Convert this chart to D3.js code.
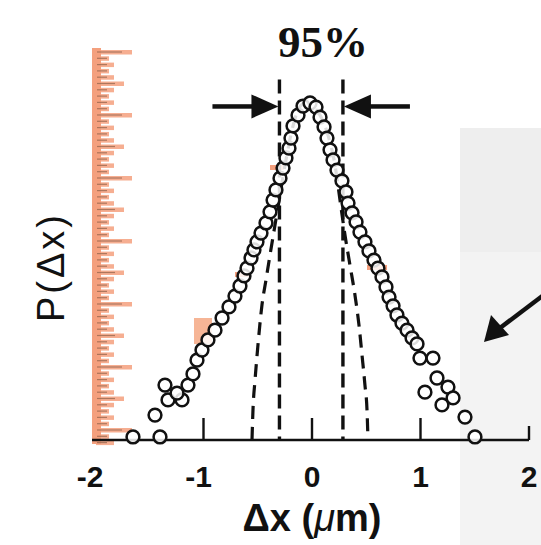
<!DOCTYPE html>
<html><head><meta charset="utf-8">
<script src="https://cdn.jsdelivr.net/npm/d3@7/dist/d3.min.js"></script>
<style>html,body{margin:0;padding:0;background:#fff;}svg{display:block;}</style>
</head><body>
<script>
// ---- data ----
const xTicks = [-2, -1, 0, 1, 2];
const xTickLabels = ["-2", "-1", "0", "1", "2"];
// measured distribution P(dx), normalised to the peak
const pointsX = [-1.650,-1.401,-1.447,-1.327,-1.198,-1.244,-1.355,-1.143,-1.097,-1.060,-1.014,-0.959,-0.894,-0.829,-0.765,-0.710,-0.664,-0.627,-0.599,-0.562,-0.535,-0.507,-0.470,-0.424,-0.387,-0.359,-0.332,-0.295,-0.267,-0.240,-0.212,-0.194,-0.175,-0.129,-0.083,-0.018,0.037,0.074,0.111,0.138,0.166,0.194,0.230,0.276,0.313,0.332,0.369,0.406,0.442,0.488,0.525,0.571,0.608,0.645,0.682,0.710,0.747,0.783,0.829,0.876,0.922,0.968,0.995,1.115,1.041,1.152,1.253,1.198,1.300,1.410,1.502];
const pointsY = [0.009,0.009,0.074,0.119,0.119,0.139,0.163,0.163,0.196,0.237,0.267,0.297,0.326,0.362,0.395,0.427,0.457,0.487,0.510,0.540,0.564,0.588,0.614,0.644,0.677,0.712,0.742,0.777,0.807,0.837,0.866,0.896,0.932,0.964,0.991,1.000,0.988,0.958,0.929,0.896,0.861,0.831,0.801,0.769,0.736,0.703,0.674,0.647,0.617,0.588,0.561,0.534,0.510,0.484,0.454,0.424,0.398,0.371,0.347,0.326,0.303,0.285,0.243,0.243,0.142,0.184,0.157,0.104,0.125,0.068,0.009];
// dashed narrow (diffraction-limited) profile
const fitX = [-0.553,-0.544,-0.525,-0.498,-0.461,-0.424,-0.387,-0.341,-0.295,-0.240,-0.184,-0.129,-0.065,0.000,0.074,0.147,0.212,0.258,0.304,0.350,0.396,0.433,0.461,0.488,0.507,0.516];
const fitY = [0.000,0.089,0.178,0.282,0.401,0.475,0.549,0.638,0.727,0.831,0.920,0.979,1.000,0.991,0.964,0.905,0.816,0.712,0.608,0.519,0.430,0.341,0.252,0.163,0.089,0.000];
// 95 % bounds (vertical dashed lines)
const boundX = [-0.30, 0.285];
const boundTop = 1.07;
const annotation = "95%";
const xTitle = ["\u0394x (", "\u03bc", "m)"];
const yTitle = "P(\u0394x)";

// ---- drawing ----
const W = 541, H = 545;
const svg = d3.select("body").append("svg").attr("width", W).attr("height", H);
const x = d3.scaleLinear().domain([-2, 2]).range([95, 529]);
const y = d3.scaleLinear().domain([0, 1]).range([440, 103]);

// scanned-paper background on the right
svg.append("rect").attr("x", 460).attr("y", 128).attr("width", 81).attr("height", 124).attr("fill", "#eeeeee");
svg.append("rect").attr("x", 460).attr("y", 252).attr("width", 81).attr("height", 293).attr("fill", "#f3f3f3");

// salmon ruler-like y axis
const salmon = "#f4a07e";
svg.append("rect").attr("x", 92).attr("y", 48).attr("width", 9).attr("height", 396).attr("fill", salmon);
const ry = d3.range(0, 63);
svg.append("g").selectAll("rect").data(ry).join("rect")
  .attr("x", 96)
  .attr("y", i => 50 + i * 6.3)
  .attr("width", i => i % 10 === 0 ? 36 : (i % 5 === 0 ? 28 : (i % 2 === 0 ? 18 : 13)))
  .attr("height", 4.5).attr("fill", salmon).attr("opacity", 0.85);
svg.append("g").selectAll("line").data(ry).join("line")
  .attr("x1", 97).attr("x2", i => i % 10 === 0 ? 122 : (i % 5 === 0 ? 115 : 107))
  .attr("y1", i => 52 + i * 6.3).attr("y2", i => 52 + i * 6.3)
  .attr("stroke", "#8f6048").attr("stroke-width", 1.2).attr("opacity", 0.7);

// salmon scan artefacts near the data
svg.append("rect").attr("x", 194).attr("y", 318).attr("width", 18).attr("height", 26).attr("fill", "#f6b596");
[[270, 165, 14], [235, 272, 15], [367, 265, 20]].forEach(([a, b, w]) =>
  svg.append("rect").attr("x", a).attr("y", b).attr("width", w).attr("height", 5).attr("fill", salmon));

// x axis
const axis = svg.append("g");
axis.append("line").attr("x1", x(-2) - 3).attr("x2", x(2)).attr("y1", y(0)).attr("y2", y(0))
  .attr("stroke", "#111").attr("stroke-width", 2.4);
axis.selectAll("line.tk").data(xTicks.filter(d => d > -2)).join("line").attr("class", "tk")
  .attr("x1", d => x(d)).attr("x2", d => x(d))
  .attr("y1", y(0)).attr("y2", d => d === 2 ? y(0) - 14 : y(0) - 22)
  .attr("stroke", "#111").attr("stroke-width", 2.4);
axis.selectAll("text").data(xTicks).join("text")
  .attr("x", d => x(d) - (d < 0 ? 5 : 0)).attr("y", 487)
  .attr("text-anchor", "middle")
  .attr("font-family", "Liberation Sans, Arial, sans-serif").attr("font-weight", "bold").attr("font-size", 30)
  .attr("fill", "#111")
  .text((d, i) => xTickLabels[i]);

// x title
const xt = svg.append("text").attr("x", 312).attr("y", 531).attr("text-anchor", "middle")
  .attr("font-family", "Liberation Sans, Arial, sans-serif").attr("font-weight", "bold").attr("font-size", 38).attr("fill", "#111");
xt.append("tspan").text(xTitle[0]);
xt.append("tspan").attr("font-style", "italic").attr("font-weight", "normal").text(xTitle[1]);
xt.append("tspan").text(xTitle[2]);

// y title
svg.append("text").attr("transform", "translate(64,267) rotate(-90)").attr("text-anchor", "middle")
  .attr("font-family", "Liberation Sans, Arial, sans-serif").attr("font-size", 38).attr("fill", "#111")
  .attr("letter-spacing", 3)
  .text(yTitle);

// dashed fit profile
const line = d3.line().x(d => x(d[0])).y(d => y(d[1])).curve(d3.curveMonotoneX);
svg.append("path").datum(fitX.map((v, i) => [v, fitY[i]])).attr("d", line)
  .attr("fill", "none").attr("stroke", "#111").attr("stroke-width", 3.2).attr("stroke-dasharray", "13 8");

// vertical 95% bound lines
svg.selectAll("line.bd").data(boundX).join("line").attr("class", "bd")
  .attr("x1", d => x(d)).attr("x2", d => x(d)).attr("y1", y(boundTop)).attr("y2", y(0))
  .attr("stroke", "#111").attr("stroke-width", 3.4).attr("stroke-dasharray", "14 7");

// data circles
svg.append("g").selectAll("circle").data(pointsX.map((v, i) => [v, pointsY[i]])).join("circle")
  .attr("cx", d => x(d[0])).attr("cy", d => y(d[1])).attr("r", 6.4)
  .attr("fill", "#fff").attr("fill-opacity", 0.85).attr("stroke", "#111").attr("stroke-width", 2.5);

// arrows pointing at the bounds
const ay = y(boundTop) + 27;
function arrow(tipX, dir) {
  const g = svg.append("g").attr("fill", "#111");
  g.append("rect").attr("x", dir > 0 ? tipX - 66 : tipX + 20).attr("y", ay - 2.2).attr("width", 46).attr("height", 4.5);
  g.append("path").attr("d", `M${tipX},${ay} L${tipX - dir * 27},${ay - 12} L${tipX - dir * 27},${ay + 12} Z`);
}
arrow(x(boundX[0]) - 1, 1);
arrow(x(boundX[1]) + 1, -1);

// 95% label
svg.append("text").attr("x", 323).attr("y", 57).attr("text-anchor", "middle")
  .attr("font-family", "Liberation Serif, Times New Roman, serif").attr("font-weight", "bold").attr("font-size", 45).attr("fill", "#111")
  .text(annotation);

// arrow at the right edge
svg.append("line").attr("x1", 545).attr("y1", 294).attr("x2", 500).attr("y2", 328).attr("stroke", "#111").attr("stroke-width", 4.5);
svg.append("path").attr("d", "M484,342 L491,315 L509,335 Z").attr("fill", "#111");
</script>
</body></html>
